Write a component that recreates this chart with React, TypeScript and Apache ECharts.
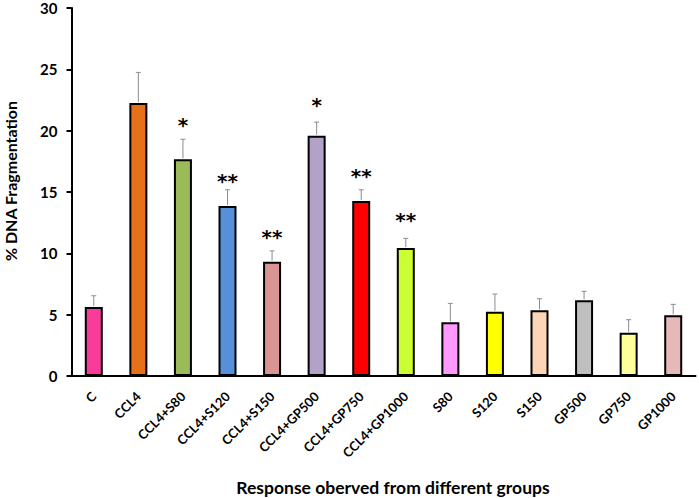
import React, { useEffect, useRef } from "react";
import * as echarts from "echarts";

const categories = [
  "C", "CCL4", "CCL4+S80", "CCL4+S120", "CCL4+S150", "CCL4+GP500", "CCL4+GP750",
  "CCL4+GP1000", "S80", "S120", "S150", "GP500", "GP750", "GP1000",
];
const means = [5.62, 22.25, 17.66, 13.86, 9.32, 19.59, 14.26, 10.43, 4.38, 5.24, 5.35, 6.17, 3.53, 4.95];
const errors = [0.92, 2.5, 1.64, 1.32, 0.88, 1.11, 0.92, 0.79, 1.54, 1.44, 0.95, 0.73, 1.06, 0.89];
const stars = ["", "", "*", "**", "**", "*", "**", "**", "", "", "", "", "", ""];
const starY = [0, 0, 20.7, 16.14, 11.57, 22.36, 16.57, 12.96, 0, 0, 0, 0, 0, 0];
const colors = [
  "#F93C9A", "#E8701A", "#9BBB59", "#5590D9", "#D99594", "#B3A2C7", "#FF0000",
  "#CCFF33", "#FF99FF", "#FFFF00", "#FBD5B5", "#BFBFBF", "#FFFF99", "#E6B9B8",
];
const yTicks = { min: 0, max: 30, interval: 5 };

const FONT = "Lato";

export default function App() {
  const ref = useRef<HTMLDivElement>(null);
  useEffect(() => {
    if (!ref.current) return;
    const chart = echarts.init(ref.current, null, { renderer: "svg" });
    const starItems = stars
      .map((s, i) => ({ s, i }))
      .filter((d) => d.s !== "");
    const option: any = {
      animation: false,
      backgroundColor: "#ffffff",
      grid: { left: 71.5, right: 3.5, top: 8, bottom: 122 },
      xAxis: {
        type: "category",
        data: categories,
        axisLine: { lineStyle: { color: "#000", width: 2 } },
        axisTick: { show: false },
        axisLabel: {
          rotate: 45,
          interval: 0,
          margin: 18,
          color: "#000",
          fontFamily: FONT,
          fontWeight: "bold",
          fontSize: 13,
        },
      },
      yAxis: {
        type: "value",
        min: yTicks.min,
        max: yTicks.max,
        interval: yTicks.interval,
        splitLine: { show: false },
        axisLine: { show: true, lineStyle: { color: "#000", width: 2 } },
        axisTick: { show: true, length: 5, lineStyle: { color: "#000", width: 2 } },
        axisLabel: {
          margin: 14,
          color: "#000",
          fontFamily: FONT,
          fontWeight: "bold",
          fontSize: 15,
        },
      },
      series: [
        {
          type: "bar",
          barWidth: 18,
          data: means.map((v, i) => ({
            value: v,
            itemStyle: { color: colors[i], borderColor: "#000", borderWidth: 2 },
          })),
          z: 2,
        },
        {
          type: "custom",
          z: 3,
          data: means.map((v, i) => [i, v, v + errors[i]]),
          renderItem: (params: any, api: any) => {
            const p0 = api.coord([api.value(0), api.value(1)]);
            const p1 = api.coord([api.value(0), api.value(2)]);
            const style = { stroke: "#8C8C8C", lineWidth: 1 };
            return {
              type: "group",
              children: [
                { type: "line", shape: { x1: p0[0], y1: p0[1] - 1, x2: p1[0], y2: p1[1] }, style },
                { type: "line", shape: { x1: p1[0] - 2.5, y1: p1[1], x2: p1[0] + 2.5, y2: p1[1] }, style },
              ],
            };
          },
        },
        {
          type: "custom",
          z: 4,
          data: starItems.map((d) => [d.i, starY[d.i]]),
          renderItem: (params: any, api: any) => {
            const p = api.coord([api.value(0), api.value(1)]);
            const txt = starItems[params.dataIndex].s;
            return {
              type: "text",
              x: p[0],
              y: p[1] + 3,
              style: {
                text: txt,
                fill: "#000",
                font: `bold 20px "DejaVu Sans"`,
                align: "center",
                verticalAlign: "middle",
              },
            };
          },
        },
      ],
      graphic: [
        {
          type: "text",
          x: 10,
          y: 181,
          rotation: Math.PI / 2,
          style: {
            text: "% DNA Fragmentation",
            fill: "#000",
            font: `bold 16px ${FONT}`,
            align: "center",
            verticalAlign: "middle",
          },
        },
        {
          type: "text",
          x: 393,
          y: 487,
          style: {
            text: "Response oberved from different groups",
            fill: "#000",
            font: `bold 17.5px ${FONT}`,
            align: "center",
            verticalAlign: "middle",
          },
        },
      ],
    };
    chart.setOption(option);
    return () => chart.dispose();
  }, []);
  return (
    <div
      ref={ref}
      style={{ position: "fixed", left: 0, top: 0, width: 699, height: 498 }}
    />
  );
}
